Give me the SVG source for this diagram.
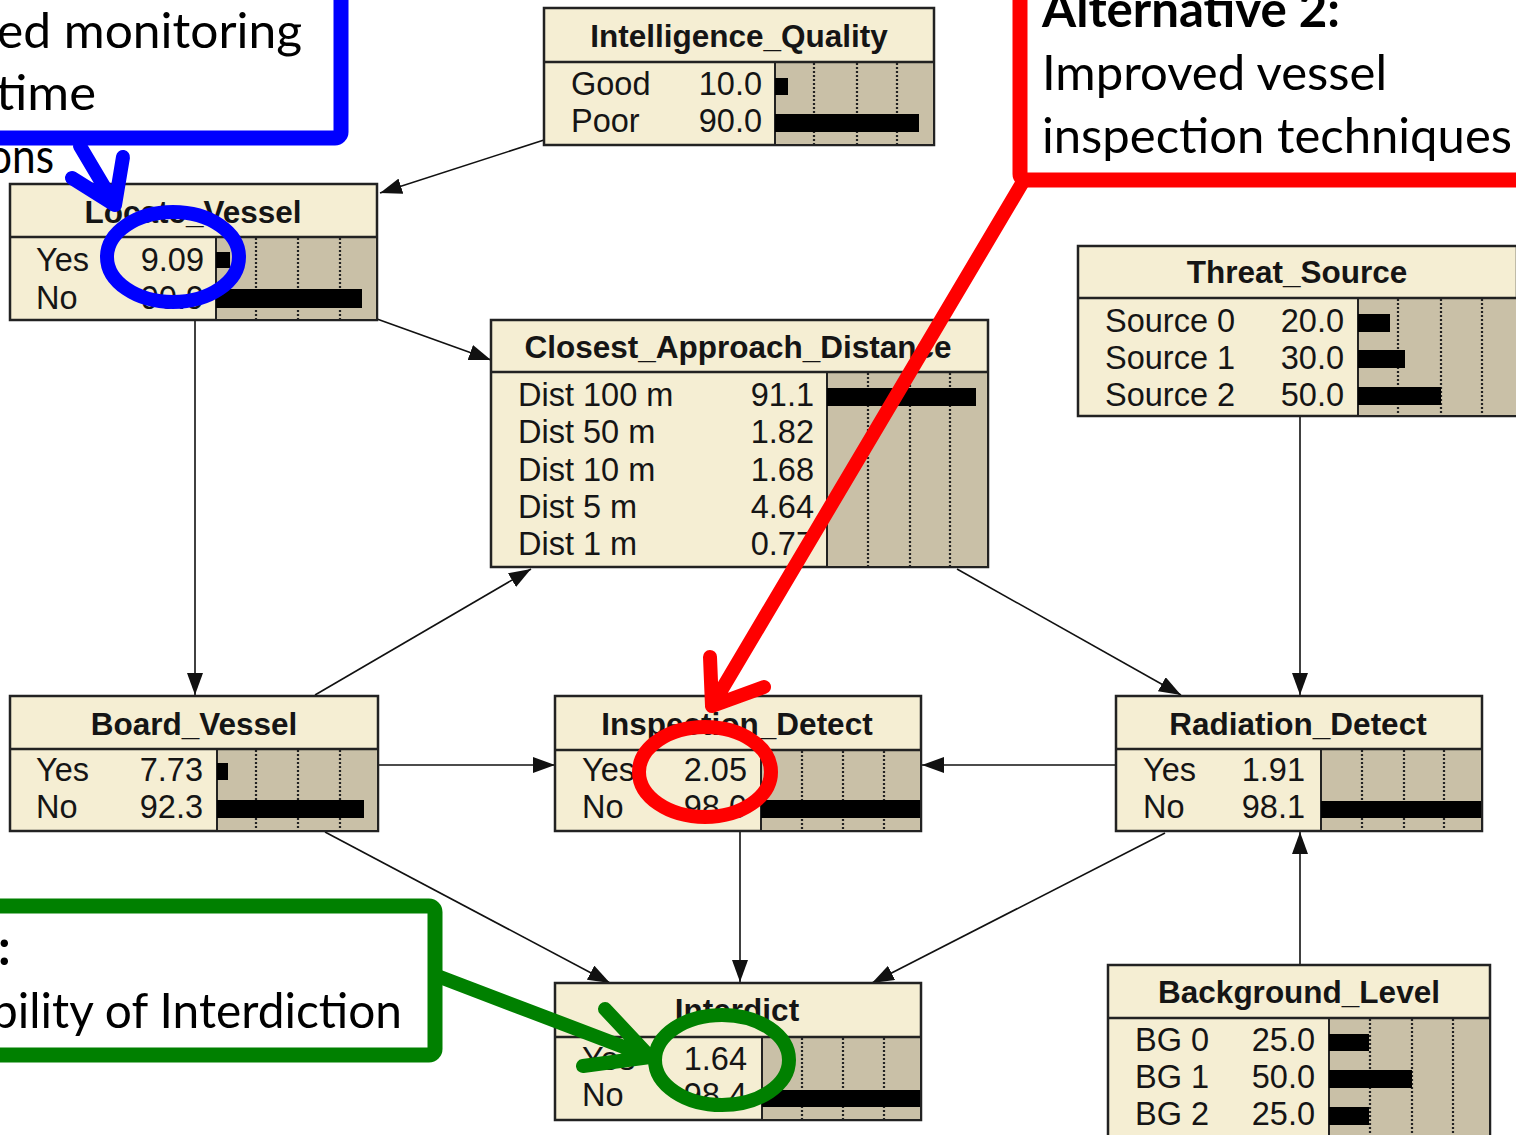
<svg xmlns="http://www.w3.org/2000/svg" width="1516" height="1135" viewBox="0 0 1516 1135">
<style>
.box{fill:#F5EED3;stroke:#222;stroke-width:2.5}
.bar{fill:#C9C0A7;stroke:#222;stroke-width:2}
.div{stroke:#222;stroke-width:2.5}
.dot{stroke:#222;stroke-width:2.2;stroke-dasharray:2 2}
.fill{fill:#000}
.title{font-family:"Liberation Sans",Arial,sans-serif;font-weight:bold;font-size:31.5px;fill:#151515;text-anchor:middle}
.lab{font-family:"Liberation Sans",Arial,sans-serif;font-size:32.5px;fill:#151515}
.val{font-family:"Liberation Sans",Arial,sans-serif;font-size:32.5px;fill:#151515;text-anchor:end}
.edge{stroke:#111;stroke-width:1.6;fill:none;marker-end:url(#ah)}
.note{font-family:Lato,"Open Sans",sans-serif;font-size:49px;fill:#000}
.noteb{font-family:Lato,"Open Sans",sans-serif;font-size:49px;font-weight:bold;fill:#000}
.ann{fill:#fff;stroke-width:15;stroke-linejoin:round}
.stk{fill:none;stroke-width:14;stroke-linecap:round;stroke-linejoin:round}
</style>
<defs>
<marker id="ah" markerUnits="userSpaceOnUse" markerWidth="22" markerHeight="16" refX="22" refY="8" orient="auto">
<path d="M0,0 L22,8 L0,16 Z" fill="#111"/>
</marker>
</defs>
<rect width="1516" height="1135" fill="#fff"/>

<g id="connectors">
<line class="edge" x1="544" y1="140" x2="380" y2="193"/>
<line class="edge" x1="377" y1="319" x2="491" y2="360"/>
<line class="edge" x1="195" y1="321" x2="195" y2="695"/>
<line class="edge" x1="315" y1="695" x2="531" y2="569"/>
<line class="edge" x1="957" y1="569" x2="1181" y2="695"/>
<line class="edge" x1="1300" y1="417" x2="1300" y2="695"/>
<line class="edge" x1="378" y1="765" x2="555" y2="765"/>
<line class="edge" x1="1116" y1="765" x2="922" y2="765"/>
<line class="edge" x1="740" y1="831" x2="740" y2="982"/>
<line class="edge" x1="325" y1="832" x2="610" y2="983"/>
<line class="edge" x1="1165" y1="833" x2="872" y2="983"/>
<line class="edge" x1="1300" y1="965" x2="1300" y2="832"/>
</g>

<g id="Intelligence_Quality">
<rect class="box" x="544" y="8" width="390" height="137"/>
<rect class="bar" x="775" y="62" width="159" height="83"/>
<line class="div" x1="544" y1="62" x2="934" y2="62"/>
<line class="dot" x1="814" y1="63" x2="814" y2="144"/>
<line class="dot" x1="857" y1="63" x2="857" y2="144"/>
<line class="dot" x1="897" y1="63" x2="897" y2="144"/>
<rect class="fill" x="775" y="78" width="13" height="17"/>
<rect class="fill" x="775" y="114" width="144" height="18"/>
<text class="title" x="739" y="47">Intelligence_Quality</text>
<text class="lab" x="571" y="95">Good</text><text class="val" x="762" y="95">10.0</text>
<text class="lab" x="571" y="132">Poor</text><text class="val" x="762" y="132">90.0</text>
</g>

<g id="Locate_Vessel">
<rect class="box" x="10" y="184" width="367" height="136"/>
<rect class="bar" x="216" y="237" width="161" height="83"/>
<line class="div" x1="10" y1="237" x2="377" y2="237"/>
<line class="dot" x1="256" y1="238" x2="256" y2="319"/>
<line class="dot" x1="298" y1="238" x2="298" y2="319"/>
<line class="dot" x1="340" y1="238" x2="340" y2="319"/>
<rect class="fill" x="216" y="252" width="14" height="16"/>
<rect class="fill" x="216" y="289" width="146" height="19"/>
<text class="title" x="193" y="223">Locate_Vessel</text>
<text class="lab" x="36" y="271">Yes</text><text class="val" x="204" y="271">9.09</text>
<text class="lab" x="36" y="309">No</text><text class="val" x="204" y="309">90.9</text>
</g>

<g id="Closest_Approach_Distance">
<rect class="box" x="491" y="320" width="497" height="247"/>
<rect class="bar" x="827" y="372" width="161" height="195"/>
<line class="div" x1="491" y1="372" x2="988" y2="372"/>
<line class="dot" x1="868" y1="373" x2="868" y2="566"/>
<line class="dot" x1="910" y1="373" x2="910" y2="566"/>
<line class="dot" x1="950" y1="373" x2="950" y2="566"/>
<rect class="fill" x="827" y="388" width="149" height="18"/>
<text class="title" x="738" y="358">Closest_Approach_Distance</text>
<text class="lab" x="518" y="406">Dist 100 m</text><text class="val" x="814" y="406">91.1</text>
<text class="lab" x="518" y="443">Dist 50 m</text><text class="val" x="814" y="443">1.82</text>
<text class="lab" x="518" y="481">Dist 10 m</text><text class="val" x="814" y="481">1.68</text>
<text class="lab" x="518" y="518">Dist 5 m</text><text class="val" x="814" y="518">4.64</text>
<text class="lab" x="518" y="555">Dist 1 m</text><text class="val" x="814" y="555">0.77</text>
</g>

<g id="Threat_Source">
<rect class="box" x="1078" y="246" width="439" height="170"/>
<rect class="bar" x="1358" y="298" width="159" height="118"/>
<line class="div" x1="1078" y1="298" x2="1517" y2="298"/>
<line class="dot" x1="1398" y1="299" x2="1398" y2="415"/>
<line class="dot" x1="1441" y1="299" x2="1441" y2="415"/>
<line class="dot" x1="1482" y1="299" x2="1482" y2="415"/>
<rect class="fill" x="1358" y="314" width="32" height="18"/>
<rect class="fill" x="1358" y="350" width="47" height="18"/>
<rect class="fill" x="1358" y="387" width="83" height="18"/>
<text class="title" x="1297" y="283">Threat_Source</text>
<text class="lab" x="1105" y="332">Source 0</text><text class="val" x="1344" y="332">20.0</text>
<text class="lab" x="1105" y="369">Source 1</text><text class="val" x="1344" y="369">30.0</text>
<text class="lab" x="1105" y="406">Source 2</text><text class="val" x="1344" y="406">50.0</text>
</g>

<g id="Board_Vessel">
<rect class="box" x="10" y="696" width="368" height="135"/>
<rect class="bar" x="217" y="749" width="161" height="82"/>
<line class="div" x1="10" y1="749" x2="378" y2="749"/>
<line class="dot" x1="256" y1="750" x2="256" y2="830"/>
<line class="dot" x1="298" y1="750" x2="298" y2="830"/>
<line class="dot" x1="340" y1="750" x2="340" y2="830"/>
<rect class="fill" x="217" y="763" width="11" height="17"/>
<rect class="fill" x="217" y="800" width="147" height="18"/>
<text class="title" x="194" y="735">Board_Vessel</text>
<text class="lab" x="36" y="781">Yes</text><text class="val" x="203" y="781">7.73</text>
<text class="lab" x="36" y="818">No</text><text class="val" x="203" y="818">92.3</text>
</g>

<g id="Inspection_Detect">
<rect class="box" x="555" y="696" width="366" height="135"/>
<rect class="bar" x="761" y="750" width="160" height="81"/>
<line class="div" x1="555" y1="750" x2="921" y2="750"/>
<line class="dot" x1="802" y1="751" x2="802" y2="830"/>
<line class="dot" x1="843" y1="751" x2="843" y2="830"/>
<line class="dot" x1="884" y1="751" x2="884" y2="830"/>
<rect class="fill" x="761" y="800" width="159" height="18"/>
<text class="title" x="737" y="735">Inspection_Detect</text>
<text class="lab" x="582" y="781">Yes</text><text class="val" x="747" y="781">2.05</text>
<text class="lab" x="582" y="818">No</text><text class="val" x="747" y="818">98.0</text>
</g>

<g id="Radiation_Detect">
<rect class="box" x="1116" y="696" width="366" height="135"/>
<rect class="bar" x="1321" y="749" width="161" height="82"/>
<line class="div" x1="1116" y1="749" x2="1482" y2="749"/>
<line class="dot" x1="1362" y1="750" x2="1362" y2="830"/>
<line class="dot" x1="1404" y1="750" x2="1404" y2="830"/>
<line class="dot" x1="1444" y1="750" x2="1444" y2="830"/>
<rect class="fill" x="1321" y="801" width="160" height="17"/>
<text class="title" x="1298" y="735">Radiation_Detect</text>
<text class="lab" x="1143" y="781">Yes</text><text class="val" x="1305" y="781">1.91</text>
<text class="lab" x="1143" y="818">No</text><text class="val" x="1305" y="818">98.1</text>
</g>

<g id="Interdict">
<rect class="box" x="555" y="983" width="366" height="137"/>
<rect class="bar" x="762" y="1037" width="159" height="83"/>
<line class="div" x1="555" y1="1037" x2="921" y2="1037"/>
<line class="dot" x1="802" y1="1038" x2="802" y2="1119"/>
<line class="dot" x1="843" y1="1038" x2="843" y2="1119"/>
<line class="dot" x1="884" y1="1038" x2="884" y2="1119"/>
<rect class="fill" x="762" y="1090" width="158" height="17"/>
<text class="title" x="737" y="1021">Interdict</text>
<text class="lab" x="582" y="1070">Yes</text><text class="val" x="747" y="1070">1.64</text>
<text class="lab" x="582" y="1106">No</text><text class="val" x="747" y="1106">98.4</text>
</g>

<g id="Background_Level">
<rect class="box" x="1108" y="965" width="382" height="190"/>
<rect class="bar" x="1329" y="1018" width="161" height="137"/>
<line class="div" x1="1108" y1="1018" x2="1490" y2="1018"/>
<line class="dot" x1="1370" y1="1019" x2="1370" y2="1135"/>
<line class="dot" x1="1412" y1="1019" x2="1412" y2="1135"/>
<line class="dot" x1="1453" y1="1019" x2="1453" y2="1135"/>
<rect class="fill" x="1329" y="1034" width="40" height="17"/>
<rect class="fill" x="1329" y="1070" width="83" height="18"/>
<rect class="fill" x="1329" y="1107" width="40" height="18"/>
<text class="title" x="1299" y="1003">Background_Level</text>
<text class="lab" x="1135" y="1051">BG 0</text><text class="val" x="1315" y="1051">25.0</text>
<text class="lab" x="1135" y="1088">BG 1</text><text class="val" x="1315" y="1088">50.0</text>
<text class="lab" x="1135" y="1125">BG 2</text><text class="val" x="1315" y="1125">25.0</text>
</g>

<g id="annotation_blue">
<rect class="ann" x="-30" y="-30" width="371" height="168" rx="6" stroke="#0000FF"/>
<text class="note" x="-3" y="48" textLength="305" lengthAdjust="spacingAndGlyphs">ed monitoring</text>
<text class="note" x="-4" y="110" textLength="100" lengthAdjust="spacingAndGlyphs">time</text>
<text class="note" x="-12" y="173" textLength="66" lengthAdjust="spacingAndGlyphs">ons</text>
<path class="stk" stroke="#0000FF" d="M80,146 L115,205 M72,178 L115,205 L123,157"/>
<ellipse class="stk" stroke="#0000FF" cx="173" cy="257" rx="66" ry="45"/>
</g>

<g id="annotation_red">
<rect class="ann" x="1020" y="-30" width="530" height="210" rx="6" stroke="#FF0000"/>
<text class="noteb" x="1042" y="27" textLength="298" lengthAdjust="spacingAndGlyphs">Alternative 2:</text>
<text class="note" x="1042" y="90" textLength="345" lengthAdjust="spacingAndGlyphs">Improved vessel</text>
<text class="note" x="1042" y="153" textLength="470" lengthAdjust="spacingAndGlyphs">inspection techniques</text>
<path class="stk" stroke="#FF0000" d="M1024,180 L712,706 M710,657 L712,706 L764,687"/>
<ellipse class="stk" stroke="#FF0000" cx="705" cy="772" rx="66" ry="45"/>
</g>

<g id="annotation_green">
<rect class="ann" x="-30" y="906" width="465" height="149" rx="6" stroke="#008000"/>
<text class="noteb" x="-2" y="965">:</text>
<text class="note" x="-9" y="1028" textLength="411" lengthAdjust="spacingAndGlyphs">bility of Interdiction</text>
<path class="stk" stroke="#008000" d="M440,977 L650,1057 M605,1009 L650,1057 L583,1066"/>
<ellipse class="stk" stroke="#008000" cx="722" cy="1060" rx="67" ry="45"/>
</g>
</svg>
